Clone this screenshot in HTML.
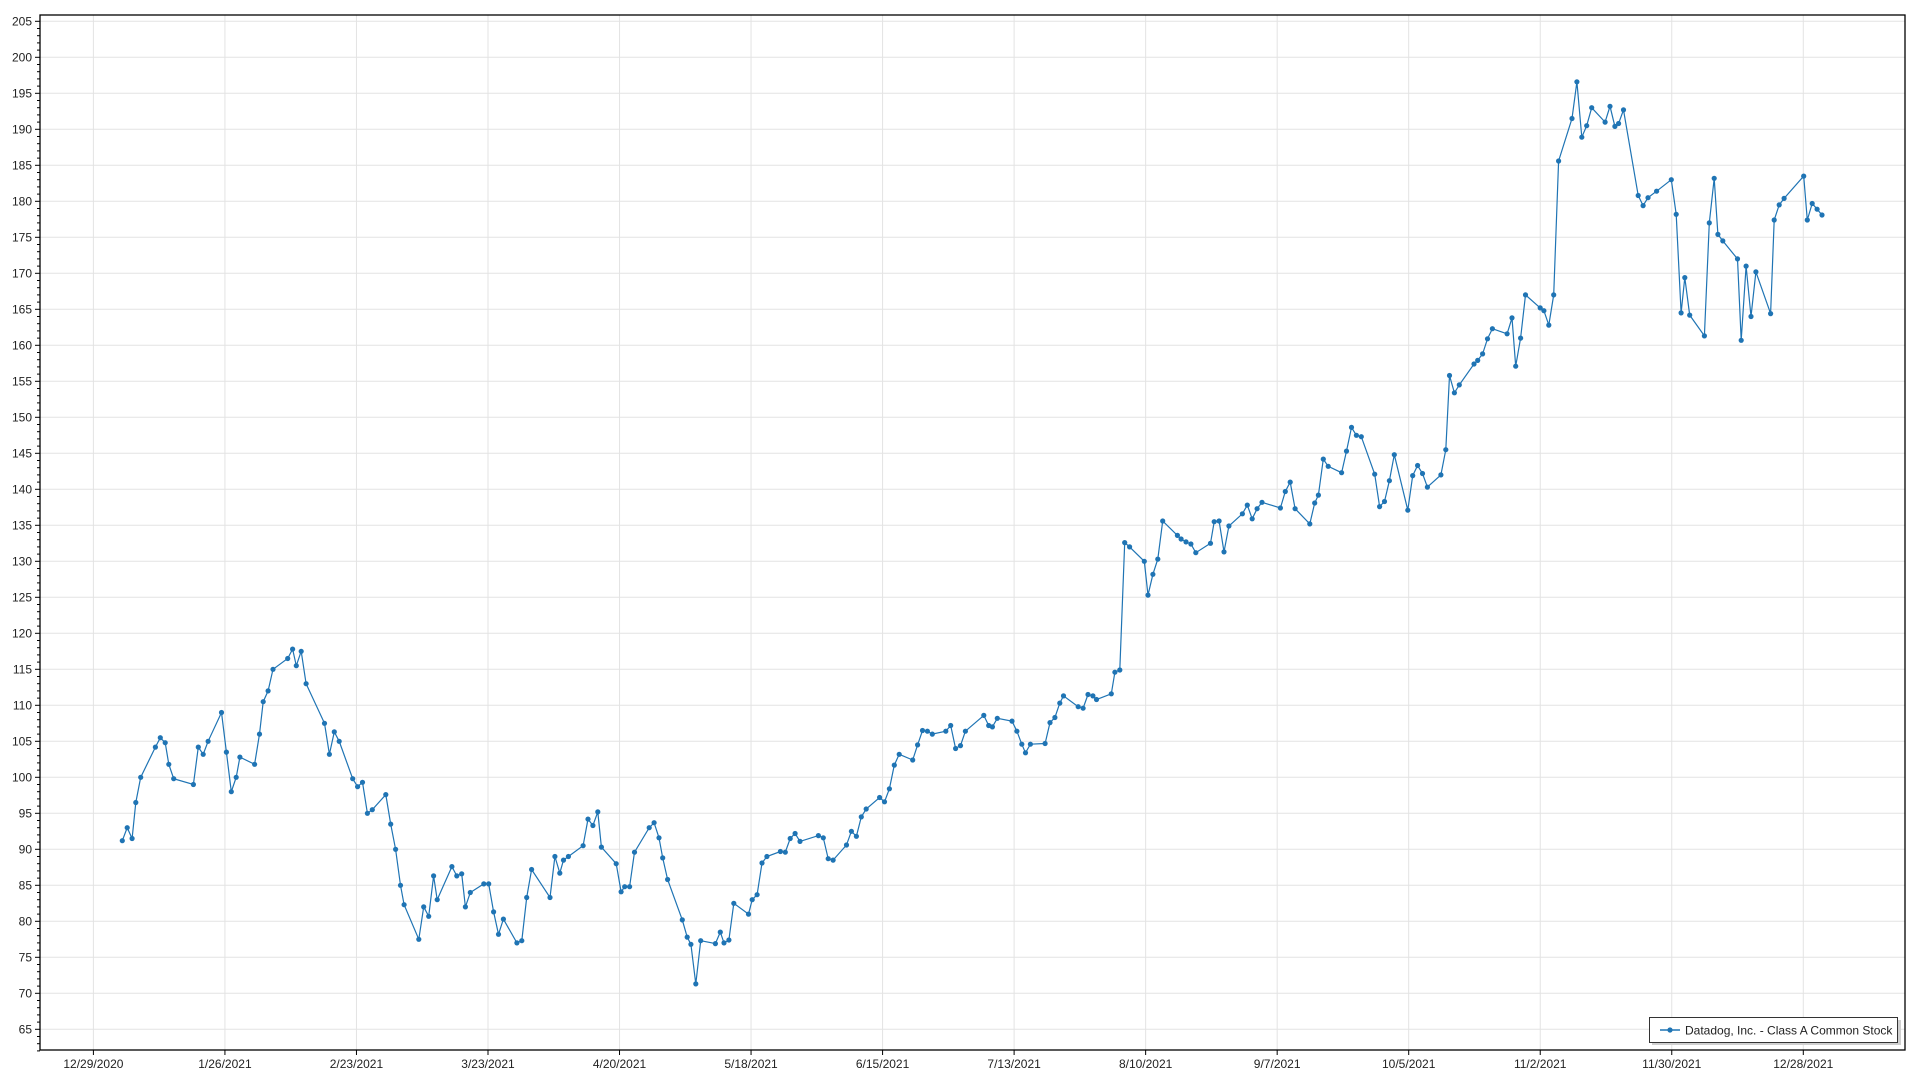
<!DOCTYPE html>
<html><head><meta charset="utf-8"><style>
html,body{margin:0;padding:0;background:#fff;}
svg{display:block;font-family:"Liberation Sans",sans-serif;}
</style></head><body>
<svg id="s" width="1920" height="1080" xmlns="http://www.w3.org/2000/svg"></svg>
<script>
const s=document.getElementById('s');
const L=40,R=1905,T=15,B=1050;
const yv=v=>21.3+(205-v)*7.2;
let h='';
// horizontal grid
for(let v=65;v<=205;v+=5){const y=yv(v);h+=`<line x1="${L}" x2="${R}" y1="${y}" y2="${y}" stroke="#e3e3e3" stroke-width="1"/>`;
h+=`<line x1="${L-5}" x2="${L}" y1="${y}" y2="${y}" stroke="#000"/>`;
h+=`<text x="${L-8}" y="${y+4}" font-size="12" text-anchor="end" fill="#222">${v}</text>`;}
for(let v=62;v<=205;v++){if(v%5){const y=yv(v);h+=`<line x1="${L-3}" x2="${L}" y1="${y}" y2="${y}" stroke="#000"/>`;}}
const labs=["12/29/2020","1/26/2021","2/23/2021","3/23/2021","4/20/2021","5/18/2021","6/15/2021","7/13/2021","8/10/2021","9/7/2021","10/5/2021","11/2/2021","11/30/2021","12/28/2021"];
labs.forEach((t,i)=>{const x=93.4+i*131.53;h+=`<line x1="${x}" x2="${x}" y1="${T}" y2="${B}" stroke="#e3e3e3"/>`;
h+=`<line x1="${x}" x2="${x}" y1="${B}" y2="${B+5}" stroke="#000"/>`;
h+=`<text x="${x}" y="${B+18}" font-size="12" text-anchor="middle" fill="#222">${t}</text>`;});
h+=`<rect x="${L}" y="${T}" width="${R-L}" height="${B-T}" fill="none" stroke="#000" stroke-width="1.3"/>`;
const d=[[101,91.2],[105,93],[109,91.5],[112,96.5],[116,100],[128,104.2],[132,105.5],[136,104.8],[139,101.8],[143,99.8],[159,99],[163,104.2],[167,103.2],[171,105],[182,109],[186,103.5],[190,98],[194,100],[197,102.8],[209,101.8],[213,106],[216,110.5],[220,112],[224,115],[236,116.5],[240,117.8],[243,115.5],[247,117.5],[251,113],[266,107.5],[270,103.2],[274,106.3],[278,105],[289,99.8],[293,98.7],[297,99.3],[301,95],[305,95.5],[316,97.6],[320,93.5],[324,90],[328,85],[331,82.3],[343,77.5],[347,82],[351,80.7],[355,86.3],[358,83],[370,87.6],[374,86.3],[378,86.6],[381,82],[385,84],[396,85.2],[400,85.2],[404,81.3],[408,78.2],[412,80.3],[423,77],[427,77.3],[431,83.3],[435,87.2],[450,83.3],[454,89],[458,86.7],[461,88.5],[465,89],[477,90.5],[481,94.2],[485,93.3],[489,95.2],[492,90.3],[504,88],[508,84.1],[511,84.8],[515,84.8],[519,89.6],[531,93],[535,93.7],[539,91.6],[542,88.8],[546,85.8],[558,80.2],[562,77.8],[565,76.8],[569,71.3],[573,77.3],[585,76.9],[589,78.5],[592,77],[596,77.4],[600,82.5],[612,81],[615,83],[619,83.7],[623,88.1],[627,89],[638,89.7],[642,89.6],[646,91.5],[650,92.2],[654,91.1],[669,91.9],[673,91.6],[677,88.7],[681,88.5],[692,90.6],[696,92.5],[700,91.8],[704,94.5],[708,95.6],[719,97.2],[723,96.6],[727,98.4],[731,101.7],[735,103.2],[746,102.4],[750,104.5],[754,106.5],[758,106.4],[762,106],[773,106.4],[777,107.2],[781,104],[785,104.4],[789,106.4],[804,108.6],[808,107.2],[811,107],[815,108.2],[827,107.8],[831,106.4],[835,104.6],[838,103.4],[842,104.6],[854,104.7],[858,107.6],[862,108.3],[866,110.3],[869,111.3],[881,109.8],[885,109.6],[889,111.5],[893,111.3],[896,110.8],[908,111.6],[911,114.6],[915,114.9],[919,132.6],[923,132],[935,130],[938,125.3],[942,128.2],[946,130.3],[950,135.6],[962,133.6],[965,133.1],[969,132.7],[973,132.4],[977,131.2],[989,132.5],[992,135.5],[996,135.6],[1000,131.3],[1004,134.9],[1015,136.6],[1019,137.8],[1023,135.9],[1027,137.3],[1031,138.2],[1046,137.4],[1050,139.7],[1054,141],[1058,137.3],[1070,135.2],[1074,138.1],[1077,139.2],[1081,144.2],[1085,143.2],[1096,142.3],[1100,145.3],[1104,148.6],[1108,147.5],[1112,147.3],[1123,142.1],[1127,137.6],[1131,138.3],[1135,141.2],[1139,144.8],[1150,137.1],[1154,141.9],[1158,143.3],[1162,142.2],[1166,140.3],[1177,142],[1181,145.5],[1184,155.8],[1188,153.4],[1192,154.5],[1204,157.4],[1207,157.9],[1211,158.8],[1215,160.9],[1219,162.3],[1231,161.6],[1235,163.8],[1238,157.1],[1242,161],[1246,167],[1258,165.2],[1261,164.8],[1265,162.8],[1269,167],[1273,185.6],[1284,191.5],[1288,196.6],[1292,188.9],[1296,190.5],[1300,193],[1311,191],[1315,193.2],[1319,190.4],[1322,190.8],[1326,192.7],[1338,180.8],[1342,179.4],[1346,180.5],[1353,181.4],[1365,183],[1369,178.2],[1373,164.5],[1376,169.4],[1380,164.2],[1392,161.3],[1396,177],[1400,183.2],[1403,175.4],[1407,174.5],[1419,172],[1422,160.7],[1426,171],[1430,164],[1434,170.2],[1446,164.4],[1449,177.4],[1453,179.5],[1457,180.4],[1473,183.5],[1476,177.4],[1480,179.7],[1484,178.9],[1488,178.1]];
const xm=dx=>dx*1.2255-1.5;
const pts=d.map(p=>[xm(p[0]).toFixed(1),yv(p[1]).toFixed(1)]);
h+=`<polyline points="${pts.map(p=>p.join(',')).join(' ')}" fill="none" stroke="#1f74b4" stroke-width="1.2"/>`;
pts.forEach(p=>{h+=`<circle cx="${p[0]}" cy="${p[1]}" r="2.6" fill="#1f74b4"/>`;});
// legend
h+=`<rect x="1652" y="1020" width="249" height="25" fill="#cfcfcf"/>`;
h+=`<rect x="1649.5" y="1017.5" width="248" height="25" fill="#fff" stroke="#333" stroke-width="1"/>`;
h+=`<line x1="1660" x2="1680" y1="1030" y2="1030" stroke="#1f74b4" stroke-width="1.5"/><circle cx="1670" cy="1030" r="2.6" fill="#1f74b4"/>`;
h+=`<text x="1685" y="1034.5" font-size="12" fill="#222">Datadog, Inc. - Class A Common Stock</text>`;
s.innerHTML=h;
</script>
</body></html>
